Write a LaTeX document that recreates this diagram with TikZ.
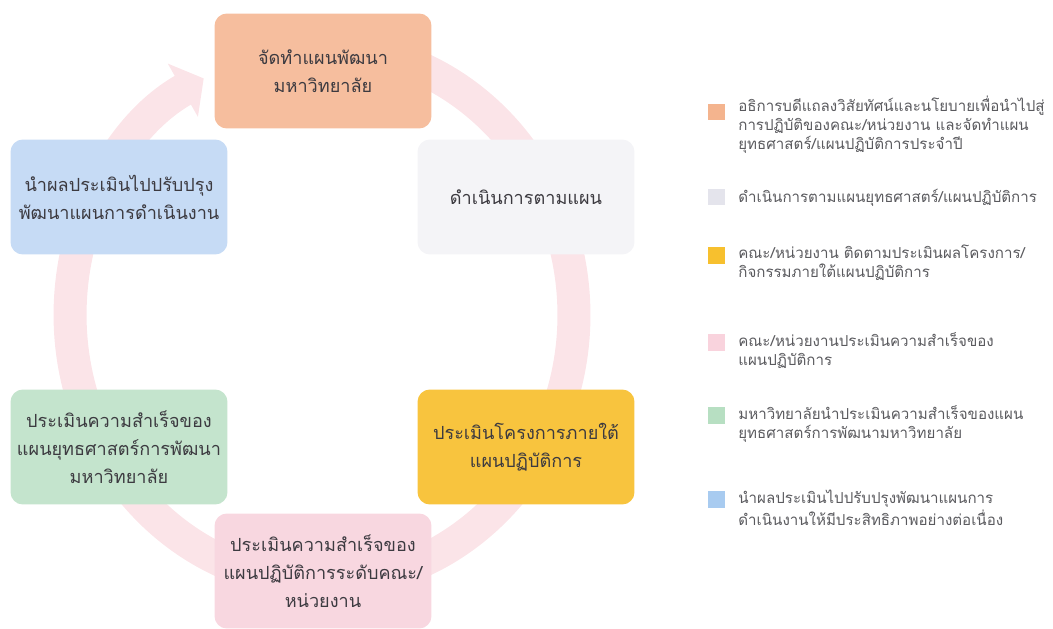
\documentclass[tikz,border=0pt]{standalone}
\usepackage{fontspec}
\setmainfont[Script=Thai]{Loma}
\usetikzlibrary{arrows.meta,positioning}
\definecolor{StepOrange}{HTML}{F6BE9E}
\definecolor{StepGray}{HTML}{F4F4F7}
\definecolor{StepYellow}{HTML}{F8C43E}
\definecolor{StepPink}{HTML}{F8D7E0}
\definecolor{StepGreen}{HTML}{C4E4CD}
\definecolor{StepBlue}{HTML}{C6DBF5}
\definecolor{RingPink}{HTML}{FBE4E8}
\definecolor{StepText}{HTML}{3C3A40}
\definecolor{KeyText}{HTML}{5A5A5E}
% legend squares are a bit stronger than the boxes
\definecolor{KeyOrange}{HTML}{F4B48E}
\definecolor{KeyGray}{HTML}{E4E4EC}
\definecolor{KeyYellow}{HTML}{F7C02E}
\definecolor{KeyPink}{HTML}{F9D3DD}
\definecolor{KeyGreen}{HTML}{B7DFC2}
\definecolor{KeyBlue}{HTML}{A8CBF0}

\begin{document}
\begin{tikzpicture}[x=0.02cm, y=-0.02cm,
    stepbox/.style = {rounded corners=7pt, minimum width=4.34cm, minimum height=2.3cm, align=center, text=StepText, font=\fontsize{10.3}{16}\selectfont},
    key/.style = {minimum size=0.34cm, inner sep=0pt},
    keytext/.style = {anchor=north west, inner sep=0pt, align=left, text=KeyText, font=\fontsize{8.6}{10.8}\selectfont}]
      \useasboundingbox (0,0) rectangle (1053,628);
      \coordinate (c) at (322,315);
      \draw[RingPink, line width=0.66cm, -{Triangle[width=1.2cm, length=0.48cm]}] ([shift={(92:5.04cm and 5.36cm)}]c) arc[start angle=92, end angle=-242, x radius=5.04cm, y radius=5.36cm];
      \node[stepbox, fill=StepOrange] (1) at (323,71) {จัดทำแผนพัฒนา\\มหาวิทยาลัย};
      \node[stepbox, fill=StepGray] (2) at (526,197) {ดำเนินการตามแผน};
      \node[stepbox, fill=StepYellow] (3) at (526,447) {ประเมินโครงการภายใต้\\แผนปฏิบัติการ};
      \node[stepbox, fill=StepPink] (4) at (323,571) {ประเมินความสำเร็จของ\\แผนปฏิบัติการระดับคณะ/\\หน่วยงาน};
      \node[stepbox, fill=StepGreen] (5) at (119,447) {ประเมินความสำเร็จของ\\แผนยุทธศาสตร์การพัฒนา\\มหาวิทยาลัย};
      \node[stepbox, fill=StepBlue] (6) at (119,197) {นำผลประเมินไปปรับปรุง\\พัฒนาแผนการดำเนินงาน};
      \node[key, fill=KeyOrange] (k1) at (716,112) {};
      \node[key, fill=KeyGray] (k2) at (716,197) {};
      \node[key, fill=KeyYellow] (k3) at (716,255) {};
      \node[key, fill=KeyPink] (k4) at (716,342) {};
      \node[key, fill=KeyGreen] (k5) at (716,415) {};
      \node[key, fill=KeyBlue] (k6) at (716,499) {};
      \node[keytext] (t1) at (738,96) {อธิการบดีแถลงวิสัยทัศน์และนโยบายเพื่อนำไปสู่\\การปฏิบัติของคณะ/หน่วยงาน และจัดทำแผน\\ยุทธศาสตร์/แผนปฏิบัติการประจำปี};
      \node[keytext] (t2) at (738,189) {ดำเนินการตามแผนยุทธศาสตร์/แผนปฏิบัติการ};
      \node[keytext] (t3) at (738,245) {คณะ/หน่วยงาน ติดตามประเมินผลโครงการ/\\กิจกรรมภายใต้แผนปฏิบัติการ};
      \node[keytext] (t4) at (738,332) {คณะ/หน่วยงานประเมินความสำเร็จของ\\แผนปฏิบัติการ};
      \node[keytext] (t5) at (738,405) {มหาวิทยาลัยนำประเมินความสำเร็จของแผน\\ยุทธศาสตร์การพัฒนามหาวิทยาลัย};
      \node[keytext] (t6) at (738,490) {นำผลประเมินไปปรับปรุงพัฒนาแผนการ\\ดำเนินงานให้มีประสิทธิภาพอย่างต่อเนื่อง};
    \end{tikzpicture}
\end{document}
